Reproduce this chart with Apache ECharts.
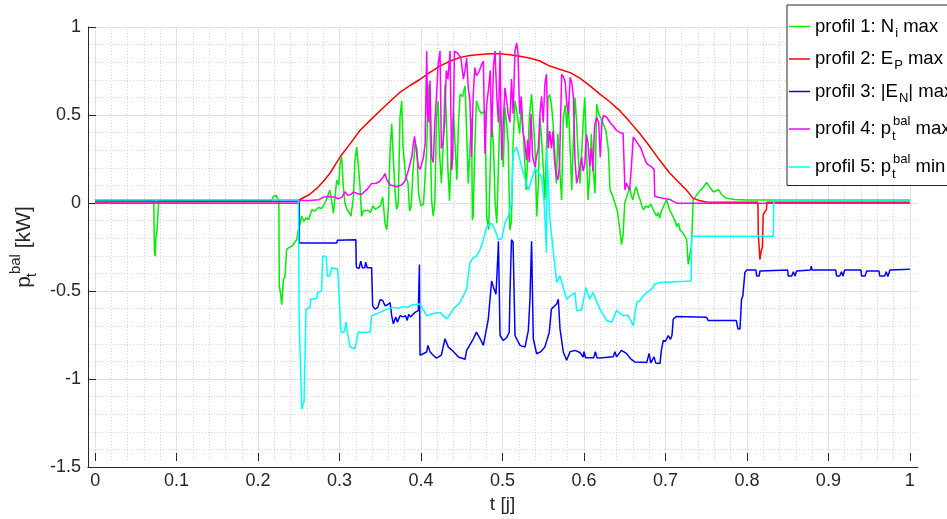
<!DOCTYPE html>
<html>
<head>
<meta charset="utf-8">
<script src="https://cdn.jsdelivr.net/npm/echarts@6/dist/echarts.min.js"></script>
<style>
html,body{margin:0;padding:0;background:#fff;}
#chart{width:947px;height:519px;}
</style>
</head>
<body>
<div id="chart"></div>
<script>
// ---- data (t [j], p [kW]) ----
const xTicks = [0, 0.1, 0.2, 0.3, 0.4, 0.5, 0.6, 0.7, 0.8, 0.9, 1];
const yTicks = [-1.5, -1, -0.5, 0, 0.5, 1];
const seriesNames = ['profil 1: N_i max', 'profil 2: E_P max', 'profil 3: |E_N| max', 'profil 4: p_t^bal max', 'profil 5: p_t^bal min'];

const profil1 = [[0,0],[0.072,0],[0.0728,-0.3],[0.0738,-0.32],[0.0745,-0.22],[0.076,-0.17],[0.0775,-0.16],[0.078,0],
[0.216,0],[0.219,0.025],[0.222,0.03],[0.224,0.02],[0.2255,0],
[0.226,-0.49],[0.228,-0.55],[0.229,-0.6],[0.2305,-0.5],[0.231,-0.453],[0.233,-0.44],[0.235,-0.282],[0.238,-0.27],[0.2425,-0.259],[0.245,-0.24],[0.2475,-0.225],[0.249,-0.18],
[0.2515,-0.13],[0.2535,-0.09],[0.256,-0.12],[0.259,-0.1],[0.262,-0.11],[0.266,-0.053],[0.27,-0.06],[0.274,-0.04],[0.278,-0.045],[0.282,-0.015],[0.285,0.02],[0.288,0.061],[0.2905,-0.01],[0.2925,-0.072],[0.2945,-0.08],[0.2965,0.118],[0.299,0.09],[0.3006,0.213],[0.3026,0.251],[0.3046,0.08],[0.3067,-0.015],[0.309,-0.05],[0.312,-0.07],[0.314,-0.09],[0.317,0.02],[0.319,0.232],[0.321,0.309],[0.323,0.2],[0.325,0.09],[0.327,-0.091],[0.329,-0.06],[0.331,-0.05],[0.335,-0.055],[0.338,-0.07],[0.341,-0.03],[0.344,-0.05],[0.347,-0.04],[0.35,-0.03],[0.353,0.02],[0.3558,-0.13],[0.358,-0.168],[0.36,-0.03],[0.362,0.29],[0.364,0.442],[0.366,0.24],[0.368,0.06],[0.37,-0.05],[0.372,-0.02],[0.3742,0.48],[0.3763,0.575],[0.378,0.3],[0.381,0.15],[0.384,0.1],[0.386,-0.06],[0.388,-0.03],[0.39,0.16],[0.3927,0.33],[0.395,0.3],[0.397,0.04],[0.4,-0.03],[0.403,-0.02],[0.405,0.14],[0.4069,0.29],[0.409,0.67],[0.411,0.47],[0.413,0.0],[0.415,-0.09],[0.417,0.0],[0.419,0.48],[0.421,0.575],[0.423,0.25],[0.425,0.1],[0.427,0.3],[0.4294,0.67],[0.431,0.48],[0.433,0.18],[0.435,0.0],[0.437,0.27],[0.4397,0.518],[0.442,0.3],[0.444,0.12],[0.446,0.45],[0.448,0.613],[0.451,0.6],[0.454,0.661],[0.456,0.4],[0.458,0.099],[0.46,0.3],[0.462,0.48],[0.463,-0.11],[0.464,-0.091],[0.466,0.3],[0.468,0.575],[0.471,0.53],[0.474,0.5],[0.4785,0.518],[0.4806,-0.091],[0.483,-0.168],[0.485,0.2],[0.4866,0.48],[0.489,0.3],[0.491,-0.015],[0.493,-0.13],[0.495,0.2],[0.497,0.537],[0.499,0.4],[0.501,0.194],[0.503,0.537],[0.505,0.45],[0.507,0.327],[0.509,-0.168],[0.511,-0.12],[0.513,0.327],[0.5153,0.575],[0.518,0.5],[0.521,0.385],[0.523,0.55],[0.526,0.35],[0.529,0.061],[0.531,0.25],[0.533,0.48],[0.5357,0.613],[0.538,0.45],[0.54,0.29],[0.542,-0.091],[0.544,0.1],[0.546,0.48],[0.548,0.35],[0.55,0.194],[0.552,0.004],[0.554,0.3],[0.556,0.594],[0.558,0.61],[0.56,0.556],[0.562,0.45],[0.564,0.29],[0.566,0.099],[0.568,0.385],[0.570,0.2],[0.5726,0.004],[0.5746,0.48],[0.577,0.55],[0.579,0.42],[0.5808,0.575],[0.583,0.3],[0.585,0.061],[0.587,0.35],[0.589,0.594],[0.591,0.45],[0.593,0.25],[0.595,0.099],[0.597,0.25],[0.599,0.45],[0.601,0.594],[0.603,0.3],[0.605,0.004],[0.607,0.15],[0.609,0.385],[0.611,0.2],[0.6135,0.042],[0.6156,0.556],[0.618,0.5],[0.621,0.47],[0.6237,0.442],[0.627,0.4],[0.63,0.29],[0.632,0.061],[0.635,0.03],[0.638,-0.015],[0.641,-0.06],[0.644,-0.168],[0.646,-0.253],[0.648,-0.2],[0.65,-0.015],[0.653,0.03],[0.6564,0.08],[0.658,0.03],[0.66,0.004],[0.662,0.05],[0.664,0.08],[0.667,0.03],[0.669,0.004],[0.671,-0.03],[0.673,-0.053],[0.676,-0.03],[0.679,-0.04],[0.682,-0.02],[0.685,-0.053],[0.687,-0.06],[0.689,-0.09],[0.691,-0.07],[0.693,-0.1],[0.695,-0.06],[0.697,-0.04],[0.699,-0.02],[0.7014,0.004],[0.703,-0.02],[0.705,-0.053],[0.707,-0.07],[0.71,-0.1],[0.712,-0.12],[0.714,-0.15],[0.716,-0.13],[0.718,-0.17],[0.72,-0.16],[0.722,-0.19],[0.724,-0.2],[0.726,-0.225],[0.728,-0.368],[0.73,-0.368],[0.732,-0.26],[0.734,0.004],[0.738,0.03],[0.743,0.06],[0.747,0.08],[0.7505,0.105],[0.754,0.08],[0.7587,0.051],[0.762,0.055],[0.765,0.065],[0.769,0.035],[0.775,0.013],[0.785,0.006],[0.8,0.003],[1.0,0.003]];

const profil2 = [[0,-0.008],[0.2475,-0.005],[0.255,0.015],[0.263,0.035],[0.272,0.07],[0.28,0.11],[0.288,0.156],[0.3006,0.251],[0.3129,0.327],[0.325,0.404],[0.3375,0.462],[0.3497,0.518],[0.362,0.572],[0.374,0.623],[0.3865,0.663],[0.399,0.699],[0.411,0.738],[0.423,0.775],[0.4355,0.803],[0.448,0.825],[0.46,0.836],[0.4724,0.842],[0.485,0.846],[0.497,0.846],[0.509,0.84],[0.5215,0.832],[0.534,0.82],[0.546,0.804],[0.558,0.775],[0.57,0.757],[0.583,0.737],[0.595,0.705],[0.607,0.662],[0.6196,0.613],[0.632,0.568],[0.644,0.518],[0.656,0.455],[0.6687,0.385],[0.681,0.31],[0.693,0.232],[0.705,0.16],[0.7178,0.099],[0.726,0.06],[0.734,0.013],[0.742,0.0],[0.75,-0.008],[0.8135,-0.01],[0.814,-0.2],[0.816,-0.34],[0.8175,-0.29],[0.819,-0.27],[0.82,-0.08],[0.822,-0.07],[0.824,-0.05],[0.8245,-0.01],[1.0,-0.01]];

const profil3 = [[0,0.005],[0.2505,0.005],[0.2507,-0.244],[0.2965,-0.244],[0.2973,-0.229],[0.32,-0.225],[0.3205,-0.37],[0.321,-0.387],[0.324,-0.39],[0.326,-0.349],[0.328,-0.387],[0.331,-0.387],[0.332,-0.355],[0.334,-0.387],[0.3394,-0.387],[0.3406,-0.606],[0.3436,-0.625],[0.347,-0.615],[0.3497,-0.571],[0.353,-0.575],[0.3558,-0.606],[0.359,-0.6],[0.362,-0.587],[0.364,-0.663],[0.366,-0.71],[0.368,-0.7],[0.369,-0.67],[0.371,-0.7],[0.3742,-0.663],[0.378,-0.67],[0.381,-0.663],[0.383,-0.69],[0.385,-0.655],[0.387,-0.67],[0.3926,-0.644],[0.3967,-0.634],[0.398,-0.368],[0.3988,-0.891],[0.4069,-0.872],[0.4085,-0.834],[0.411,-0.87],[0.415,-0.891],[0.419,-0.907],[0.425,-0.89],[0.4294,-0.796],[0.4335,-0.844],[0.44,-0.87],[0.4458,-0.901],[0.4479,-0.91],[0.454,-0.914],[0.456,-0.863],[0.4642,-0.796],[0.468,-0.758],[0.4703,-0.768],[0.473,-0.8],[0.4765,-0.834],[0.4826,-0.682],[0.4866,-0.463],[0.489,-0.5],[0.492,-0.539],[0.4945,-0.3],[0.495,-0.234],[0.497,-0.777],[0.501,-0.806],[0.505,-0.79],[0.5083,-0.758],[0.509,-0.568],[0.511,-0.225],[0.513,-0.24],[0.5153,-0.777],[0.5215,-0.834],[0.5276,-0.844],[0.5317,-0.749],[0.5337,-0.568],[0.5357,-0.234],[0.5378,-0.796],[0.5419,-0.882],[0.547,-0.87],[0.552,-0.844],[0.5574,-0.758],[0.56,-0.625],[0.5665,-0.596],[0.5685,-0.568],[0.5706,-0.739],[0.5746,-0.872],[0.5787,-0.92],[0.583,-0.87],[0.589,-0.863],[0.595,-0.875],[0.599,-0.901],[0.6,-0.87],[0.602,-0.905],[0.612,-0.905],[0.614,-0.87],[0.616,-0.905],[0.6196,-0.907],[0.636,-0.9],[0.638,-0.87],[0.64,-0.9],[0.646,-0.863],[0.652,-0.88],[0.657,-0.91],[0.6626,-0.93],[0.677,-0.933],[0.68,-0.88],[0.682,-0.935],[0.686,-0.9],[0.688,-0.935],[0.6933,-0.939],[0.695,-0.863],[0.6973,-0.806],[0.7,-0.81],[0.7035,-0.777],[0.706,-0.8],[0.708,-0.777],[0.7096,-0.682],[0.7136,-0.667],[0.7505,-0.672],[0.7525,-0.691],[0.787,-0.691],[0.789,-0.739],[0.7915,-0.739],[0.7934,-0.568],[0.795,-0.55],[0.7975,-0.415],[0.7996,-0.4],[0.811,-0.4],[0.812,-0.434],[0.815,-0.434],[0.816,-0.406],[0.85,-0.4],[0.8507,-0.434],[0.855,-0.434],[0.857,-0.41],[0.859,-0.434],[0.861,-0.406],[0.878,-0.4],[0.879,-0.377],[0.88,-0.4],[0.909,-0.4],[0.91,-0.434],[0.914,-0.434],[0.916,-0.41],[0.918,-0.434],[0.92,-0.4],[0.94,-0.4],[0.9407,-0.434],[0.945,-0.434],[0.947,-0.405],[0.962,-0.405],[0.963,-0.434],[0.969,-0.434],[0.971,-0.41],[0.973,-0.437],[0.974,-0.437],[0.9755,-0.4],[1.0,-0.396]];

const profil4 = [[0,-0.015],[0.2495,-0.015],[0.25,0.0],[0.262,0.0],[0.275,0.005],[0.28,0.02],[0.2863,0.023],[0.295,0.02],[0.298,0.01],[0.303,0.02],[0.3067,0.051],[0.31,0.03],[0.314,0.035],[0.317,0.05],[0.322,0.04],[0.327,0.035],[0.33,0.05],[0.334,0.065],[0.3394,0.099],[0.345,0.1],[0.349,0.11],[0.3538,0.137],[0.3558,0.156],[0.358,0.12],[0.362,0.09],[0.366,0.085],[0.37,0.08],[0.376,0.09],[0.38,0.11],[0.3845,0.175],[0.3886,0.251],[0.3906,0.327],[0.392,0.37],[0.394,0.3],[0.3967,0.194],[0.399,0.18],[0.401,0.19],[0.403,0.25],[0.405,0.327],[0.407,0.861],[0.408,0.5],[0.4095,0.45],[0.411,0.69],[0.413,0.25],[0.415,0.22],[0.417,0.45],[0.419,0.6],[0.421,0.785],[0.4233,0.861],[0.425,0.3],[0.427,0.33],[0.429,0.45],[0.431,0.75],[0.433,0.7],[0.4356,0.861],[0.4376,0.175],[0.439,0.25],[0.441,0.861],[0.445,0.85],[0.449,0.82],[0.452,0.7],[0.454,0.75],[0.456,0.823],[0.458,0.651],[0.46,0.575],[0.462,0.251],[0.464,0.6],[0.466,0.766],[0.468,0.72],[0.471,0.74],[0.474,0.78],[0.4765,0.804],[0.4785,0.27],[0.4806,0.55],[0.483,0.65],[0.485,0.75],[0.4866,0.366],[0.489,0.78],[0.4908,0.861],[0.493,0.6],[0.495,0.45],[0.497,0.861],[0.499,0.232],[0.501,0.45],[0.503,0.65],[0.505,0.58],[0.507,0.5],[0.509,0.45],[0.511,0.7],[0.513,0.5],[0.5153,0.861],[0.5174,0.909],[0.519,0.85],[0.521,0.5],[0.523,0.6],[0.525,0.4],[0.527,0.35],[0.5296,0.232],[0.531,0.35],[0.533,0.22],[0.535,0.5],[0.537,0.25],[0.54,0.194],[0.542,0.26],[0.544,0.3],[0.546,0.5],[0.548,0.6],[0.55,0.45],[0.552,0.67],[0.554,0.728],[0.556,0.3],[0.558,0.4],[0.56,0.3],[0.562,0.4],[0.564,0.22],[0.5665,0.137],[0.568,0.12],[0.57,0.2],[0.5726,0.728],[0.575,0.71],[0.577,0.68],[0.579,0.55],[0.581,0.5],[0.583,0.71],[0.585,0.68],[0.587,0.6],[0.589,0.232],[0.591,0.099],[0.593,0.14],[0.595,0.19],[0.597,0.25],[0.599,0.17],[0.601,0.21],[0.603,0.38],[0.605,0.33],[0.607,0.2],[0.609,0.3],[0.611,0.17],[0.613,0.43],[0.6156,0.48],[0.618,0.45],[0.62,0.25],[0.622,0.45],[0.6237,0.49],[0.628,0.48],[0.632,0.45],[0.636,0.43],[0.64,0.404],[0.645,0.39],[0.648,0.39],[0.6503,0.061],[0.652,0.1],[0.654,0.08],[0.656,0.061],[0.658,0.18],[0.6605,0.366],[0.663,0.35],[0.666,0.33],[0.67,0.3],[0.673,0.26],[0.677,0.213],[0.683,0.194],[0.686,0.18],[0.687,0.023],[0.695,0.015],[0.7055,0.007],[0.71,-0.006],[0.7136,-0.015],[1.0,-0.015]];

const profil5 = [[0,0.005],[0.2495,0.005],[0.2505,-0.7],[0.2536,-1.2],[0.2564,-1.158],[0.2585,-0.7],[0.2589,-0.625],[0.2638,-0.615],[0.2646,-0.568],[0.272,-0.564],[0.2728,-0.53],[0.278,-0.52],[0.2793,-0.32],[0.2834,-0.32],[0.285,-0.434],[0.288,-0.434],[0.2904,-0.387],[0.2977,-0.396],[0.3018,-0.758],[0.3055,-0.758],[0.308,-0.7],[0.3096,-0.758],[0.3129,-0.844],[0.319,-0.853],[0.321,-0.844],[0.323,-0.758],[0.3374,-0.758],[0.3394,-0.663],[0.3497,-0.644],[0.358,-0.625],[0.366,-0.615],[0.372,-0.62],[0.378,-0.61],[0.384,-0.615],[0.39,-0.6],[0.3988,-0.596],[0.407,-0.663],[0.415,-0.65],[0.4233,-0.644],[0.4315,-0.682],[0.4397,-0.625],[0.4479,-0.587],[0.456,-0.51],[0.46,-0.358],[0.464,-0.33],[0.468,-0.32],[0.4724,-0.282],[0.4765,-0.225],[0.4806,-0.149],[0.4866,-0.13],[0.4908,-0.168],[0.495,-0.225],[0.499,-0.22],[0.503,-0.13],[0.507,-0.091],[0.511,-0.015],[0.513,0.27],[0.5174,0.309],[0.5235,0.194],[0.5317,0.061],[0.54,0.185],[0.548,0.137],[0.551,0.0],[0.553,-0.2],[0.554,-0.3],[0.5545,0.29],[0.556,0.29],[0.558,-0.1],[0.5665,-0.472],[0.5706,-0.434],[0.5787,-0.568],[0.583,-0.55],[0.589,-0.53],[0.591,-0.634],[0.597,-0.63],[0.6024,-0.501],[0.607,-0.568],[0.611,-0.53],[0.6196,-0.625],[0.628,-0.691],[0.634,-0.701],[0.64,-0.634],[0.648,-0.663],[0.654,-0.66],[0.6605,-0.72],[0.6646,-0.587],[0.6687,-0.577],[0.6728,-0.549],[0.677,-0.53],[0.683,-0.51],[0.687,-0.482],[0.693,-0.472],[0.7315,-0.463],[0.732,-0.206],[0.8325,-0.206],[0.833,0.005],[1.0,0.005]];

const seriesData = [profil1, profil2, profil3, profil4, profil5];
const seriesColors = ['#00ee00', '#ff0000', '#0000ff', '#ff00ff', '#00ffff'];

// ---- rendering ----
const FONT = 'Liberation Sans, Arial, Helvetica, sans-serif';
const legendLabels = {
  'profil 1: N_i max': '{n|profil 1: N}{sub|i}{n| max}',
  'profil 2: E_P max': '{n|profil 2: E}{sub|P}{n| max}',
  'profil 3: |E_N| max': '{n|profil 3: |E}{sub|N}{n|| max}',
  'profil 4: p_t^bal max': '{n|profil 4: p}{subz|t}{sup|bal}{n| max}',
  'profil 5: p_t^bal min': '{n|profil 5: p}{subz|t}{sup|bal}{n| min}'
};
const legendRich = {
  n: {fontSize: 18.5, fontFamily: FONT, color: '#000'},
  sub: {fontSize: 13, fontFamily: FONT, color: '#000', padding: [13, 0, 0, 1]},
  subz: {fontSize: 13, fontFamily: FONT, color: '#000', width: 0, padding: [14, 0, 0, 1]},
  sup: {fontSize: 13, fontFamily: FONT, color: '#000', padding: [0, 0, 16, 1]}
};

const AX = '#262626';
const gridLeft = 87, gridRight = 29, gridTop = 27, gridBottom = 52;
const fullW = 947 - gridLeft - gridRight;
const pad = 0.01;
const innerLeft = gridLeft + fullW * pad / (1 + 2 * pad);
const innerW = fullW / (1 + 2 * pad);

const chart = echarts.init(document.getElementById('chart'), null, {renderer: 'canvas'});
chart.setOption({
  animation: false,
  backgroundColor: '#fff',
  grid: [
    {left: gridLeft, width: fullW, top: gridTop, bottom: gridBottom},
    {left: innerLeft, width: innerW, top: gridTop, bottom: gridBottom}
  ],
  xAxis: [
    {gridIndex: 0, type: 'value', min: -pad, max: 1 + pad,
     axisLine: {show: true, onZero: false, lineStyle: {color: AX, width: 1}},
     axisTick: {show: false}, axisLabel: {show: false}, splitLine: {show: false}},
    {gridIndex: 1, type: 'value', min: xTicks[0], max: xTicks[xTicks.length - 1], interval: 0.1,
     name: 't [j]', nameLocation: 'middle', nameGap: 34,
     nameTextStyle: {fontSize: 19, fontFamily: FONT, color: AX},
     axisLine: {show: false, onZero: false},
     axisTick: {show: true, inside: true, length: 8, lineStyle: {color: AX}},
     axisLabel: {show: true, fontSize: 18, fontFamily: FONT, color: AX, margin: 11},
     splitLine: {show: true, lineStyle: {color: '#e2e2e2', width: 1}},
     minorTick: {show: false, splitNumber: 5},
     minorSplitLine: {show: true, lineStyle: {color: '#d6d6d6', width: 1, type: [1, 2]}}}
  ],
  yAxis: [
    {gridIndex: 0, type: 'value', min: yTicks[0], max: yTicks[yTicks.length - 1], interval: 0.5,
     name: '{p|p}{subz|t}{sup|bal}{n| [kW]}', nameLocation: 'middle', nameGap: 48, nameRotate: 90,
     nameTextStyle: {fontSize: 20, fontFamily: FONT, color: AX, rich: {
       p: {fontSize: 21, fontFamily: FONT, color: AX},
       n: {fontSize: 21, fontFamily: FONT, color: AX},
       subz: {fontSize: 15, fontFamily: FONT, color: AX, width: 0, padding: [15, 0, 0, 1]},
       sup: {fontSize: 15, fontFamily: FONT, color: AX, padding: [0, 0, 17, 1]}
     }},
     axisLine: {show: true, onZero: false, lineStyle: {color: AX, width: 1}},
     axisTick: {show: true, inside: true, length: 8, lineStyle: {color: AX}},
     axisLabel: {show: true, fontSize: 18, fontFamily: FONT, color: AX, margin: 7},
     splitLine: {show: true, lineStyle: {color: '#e2e2e2', width: 1}},
     minorTick: {show: false, splitNumber: 5},
     minorSplitLine: {show: true, lineStyle: {color: '#d6d6d6', width: 1, type: [1, 2]}}},
    {gridIndex: 1, type: 'value', min: yTicks[0], max: yTicks[yTicks.length - 1], show: false,
     splitLine: {show: false}}
  ],
  legend: {
    orient: 'vertical', left: 787, top: 5,
    padding: [12, 12, 5, 2], itemGap: 10, itemWidth: 21, itemHeight: 1.5, icon: 'rect',
    backgroundColor: '#fff', borderColor: AX, borderWidth: 1, borderRadius: 0,
    selectedMode: false,
    data: seriesNames,
    formatter: name => legendLabels[name],
    textStyle: {fontSize: 18.5, fontFamily: FONT, color: '#000', rich: legendRich}
  },
  series: seriesNames.map((name, i) => ({
    name: name, type: 'line', xAxisIndex: 1, yAxisIndex: 1,
    data: seriesData[i], symbol: 'none', clip: false,
    lineStyle: {color: seriesColors[i], width: 1.5}, itemStyle: {color: seriesColors[i]},
    emphasis: {disabled: true}
  }))
});
</script>
</body>
</html>
